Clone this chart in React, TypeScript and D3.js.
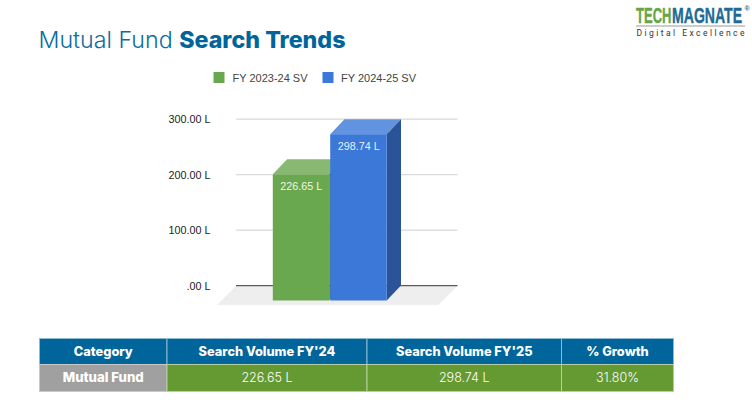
import React from "react";
import * as d3 from "d3";

const seriesNames = ["FY 2023-24 SV", "FY 2024-25 SV"];
const seriesValues = [226.65, 298.74];
const valueLabels = ["226.65 L", "298.74 L"];
const axisTicks = [0, 100, 200, 300];
const axisLabels = [".00 L", "100.00 L", "200.00 L", "300.00 L"];
const frontColors = ["#6aa84f", "#3c78d8"];
const topColors = ["#88b972", "#6293e0"];
const sideColors = ["#4a7537", "#2a5497"];
const tableHeaders = ["Category", "Search Volume FY'24", "Search Volume FY'25", "% Growth"];
const tableRow = ["Mutual Fund", "226.65 L", "298.74 L", "31.80%"];
const columnEdges = [39.5, 167, 367, 561.5, 673.5];

const depthX = 14.3;
const depthY = 15;
const yBack = d3.scaleLinear().domain([0, 300]).range([285.7, 119.2]);
const yFront = d3.scaleLinear().domain([0, 300]).range([300.5, 133.5]);
const xBand = d3.scaleBand<string>().domain(seriesNames).range([272.8, 386.7]).paddingInner(0.016);

const F = "Roboto, sans-serif";
const A = "'Liberation Sans', sans-serif";
const P = "Inter, sans-serif";
const poly = (pts: [number, number][]) => d3.line()(pts)! + "Z";

export default function App() {
  return (
    <svg width={752} height={400} viewBox="0 0 752 400" style={{ position: "absolute", left: 0, top: 0, background: "#fff" }}>
      <text x={38.5} y={47.5} fontFamily={P} fontSize={22.5} fill="#0a6ca3" fontWeight={300} textLength={307} lengthAdjust="spacingAndGlyphs">
        Mutual Fund <tspan fontWeight={800} fill="#00659b">Search Trends</tspan>
      </text>

      <text transform="translate(636 22.5) scale(0.593 1)" fontFamily={A} fontWeight={700} fontSize={22} fill="#6aa544" stroke="#6aa544" strokeWidth={0.4}>TECH</text>
      <text transform="translate(672 22.5) scale(0.64 1)" fontFamily={A} fontWeight={700} fontSize={22} fill="#1f6a94" stroke="#1f6a94" strokeWidth={0.4}>MAGNATE</text>
      <text x={744.5} y={11} fontFamily={A} fontSize={7} fontWeight={700} fill="#1f6a94">®</text>
      <rect x={636} y={25.5} width={109} height={1} fill="#9a9a9a" />
      <text x={636.5} y={35.5} fontFamily={F} fontSize={8.5} fill="#333" textLength={108}>Digital Excellence</text>

      {seriesNames.map((n, i) => (
        <g key={n}>
          <rect x={i === 0 ? 213.5 : 322.5} y={72} width={11} height={11} fill={frontColors[i]} />
          <text x={i === 0 ? 232.5 : 341} y={81.5} fontFamily={A} fontSize={11} fill="#444">{n}</text>
        </g>
      ))}

      <path d={poly([[236, 286], [457.5, 286], [438.5, 305], [217, 305]])} fill="#eeeeee" />
      {axisTicks.map((t, i) => (
        <g key={t}>
          <line x1={236} x2={457.5} y1={yBack(t)} y2={yBack(t)} stroke={t === 0 ? "#333" : "#d9d9d9"} strokeWidth={t === 0 ? 1 : 1.2} />
          <text x={210.5} y={yBack(t) + 4} textAnchor="end" fontFamily={A} fontSize={10.8} fill="#222">{axisLabels[i]}</text>
        </g>
      ))}

      {seriesNames.map((n, i) => {
        const x0 = xBand(n)!;
        const x1 = x0 + xBand.bandwidth();
        const yT = yFront(seriesValues[i]);
        const yB = yFront(0);
        return (
          <g key={n}>
            <path d={poly([[x0, yT], [x0 + depthX, yT - depthY], [x1 + depthX, yT - depthY], [x1, yT]])} fill={topColors[i]} />
            <path d={poly([[x1, yT], [x1 + depthX, yT - depthY], [x1 + depthX, yB - depthY], [x1, yB]])} fill={sideColors[i]} />
            <rect x={x0} y={yT} width={x1 - x0} height={yB - yT} fill={frontColors[i]} />
            <text x={(x0 + x1) / 2 + 0.3} y={yT + 16} textAnchor="middle" fontFamily={A} fontSize={10.8} fill="#ffffff" fillOpacity={0.9}>{valueLabels[i]}</text>
          </g>
        );
      })}

      {tableHeaders.map((h, i) => (
        <g key={h}>
          <rect x={columnEdges[i]} y={338.5} width={columnEdges[i + 1] - columnEdges[i]} height={26} fill="#00659b" stroke="#8fb9d3" strokeWidth={1} />
          <text x={(columnEdges[i] + columnEdges[i + 1]) / 2} y={355.5} textAnchor="middle" fontFamily={P} fontWeight={800} fontSize={12.8} fill="#fff">{h}</text>
        </g>
      ))}
      {tableRow.map((c, i) => (
        <g key={c}>
          <rect x={columnEdges[i]} y={364.5} width={columnEdges[i + 1] - columnEdges[i]} height={27} fill={i === 0 ? "#a0a0a0" : "#659a32"} stroke={i === 0 ? "#c9c9c9" : "#b5d0a0"} strokeWidth={1} />
          <text x={(columnEdges[i] + columnEdges[i + 1]) / 2} y={382} textAnchor="middle" fontFamily={P} fontWeight={i === 0 ? 800 : 300} fontSize={i === 0 ? 13.2 : 12.5} fill="#fff">{c}</text>
        </g>
      ))}
    </svg>
  );
}
